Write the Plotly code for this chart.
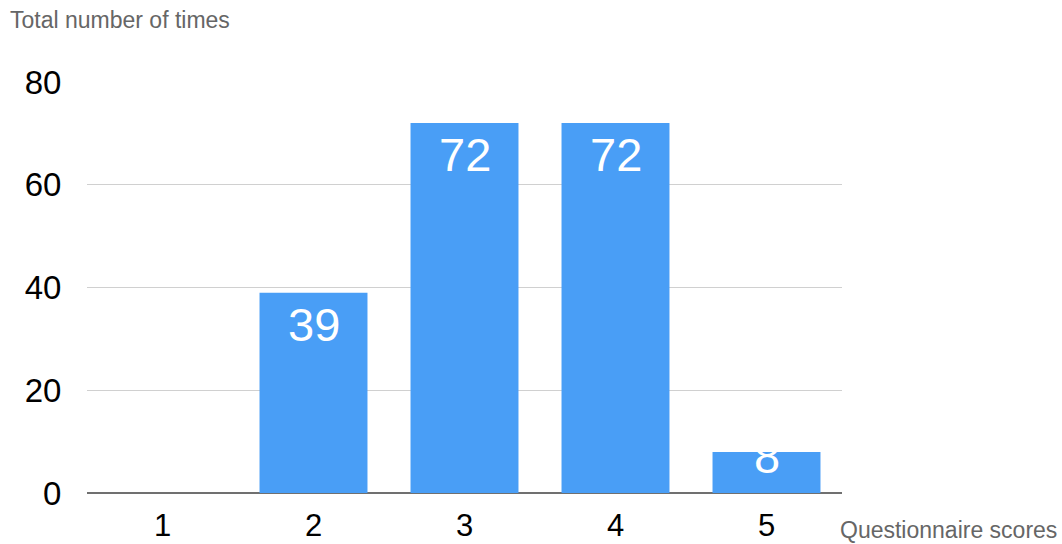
import plotly.graph_objects as go

# Questionnaire score distribution
scores = ["1", "2", "3", "4", "5"]
counts = [0, 39, 72, 72, 8]
y_ticks = [0, 20, 40, 60, 80]

BAR_BLUE = "#499EF6"
FONT = "Liberation Sans, Arial, Helvetica, sans-serif"

fig = go.Figure()
fig.add_trace(go.Bar(
    x=scores,
    y=counts,
    marker=dict(color=BAR_BLUE, line=dict(width=0)),
    width=0.715,
    hoverinfo="x+y",
))

# White value labels placed inside the top of each bar
for i, c in enumerate(counts):
    if c <= 0:
        continue
    if c >= 20:
        fig.add_annotation(x=i, y=c, xref="x", yref="y", text=str(c),
                           showarrow=False, yanchor="top", yshift=-3,
                           font=dict(family=FONT, size=47, color="white"))
    else:
        fig.add_annotation(x=i, y=c, xref="x", yref="y", text=str(c),
                           showarrow=False, yanchor="middle", yshift=-5,
                           font=dict(family=FONT, size=47, color="white"))

fig.add_annotation(xref="paper", yref="paper", x=1, y=0, xanchor="left",
                   yanchor="middle", xshift=-4, yshift=-37, showarrow=False,
                   text="Questionnaire scores",
                   font=dict(family=FONT, size=23, color="#666666"))

fig.update_layout(
    width=1062, height=544,
    margin=dict(l=87, r=220, t=82, b=51),
    paper_bgcolor="white", plot_bgcolor="white",
    showlegend=False,
    bargap=0.285,
    title=dict(text="Total number of times", x=10 / 1062, xanchor="left",
               y=1 - 20 / 544, yanchor="middle", xref="container", yref="container",
               font=dict(family=FONT, size=23, color="#666666")),
    font=dict(family=FONT, color="#000000"),
)
fig.update_xaxes(
    type="category", range=[-0.5, 4.5], automargin=False,
    showgrid=False, showline=False, zeroline=False,
    ticks="outside", ticklen=5, tickcolor="rgba(0,0,0,0)",
    tickfont=dict(family=FONT, size=31, color="#000000"),
)
fig.update_yaxes(
    range=[0, 80], tickvals=y_ticks, ticktext=[str(v) for v in y_ticks],
    automargin=False,
    showgrid=True, gridcolor="#d0d0d0", gridwidth=1,
    zeroline=True, zerolinecolor="#707070", zerolinewidth=1.5,
    showline=False,
    ticks="outside", ticklen=18, tickcolor="rgba(0,0,0,0)",
    tickfont=dict(family=FONT, size=33, color="#000000"),
)

fig.write_html("out.html")
